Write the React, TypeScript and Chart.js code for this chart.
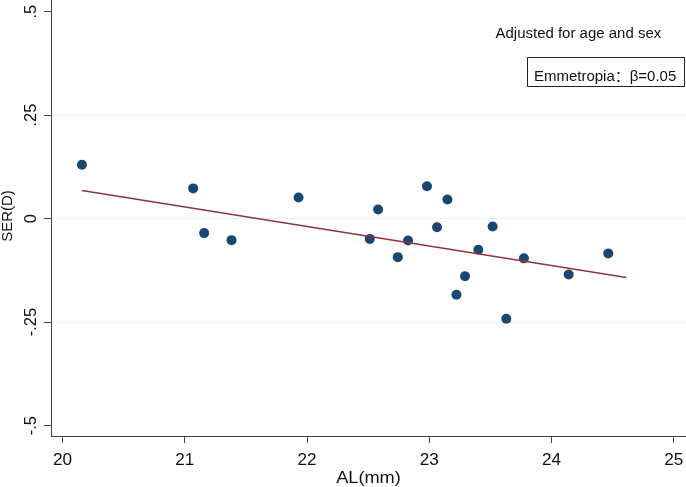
import React, { useEffect, useRef } from "react";
import { Chart, registerables } from "chart.js";

Chart.register(...registerables);

// Data
const alValues = [20.158, 21.068, 21.158, 21.382, 21.93, 22.513, 22.581, 22.742, 22.826, 22.981, 23.063, 23.148, 23.222, 23.292, 23.401, 23.518, 23.63, 23.774, 24.14, 24.464];
const serValues = [0.13, 0.073, -0.035, -0.052, 0.051, -0.049, 0.022, -0.093, -0.053, 0.078, -0.021, 0.046, -0.184, -0.139, -0.075, -0.019, -0.242, -0.096, -0.135, -0.084];
const fitX = [20.158, 24.612];
const fitY = [0.068, -0.142];
const xTicks = [20, 21, 22, 23, 24, 25];
const xTickLabels = ["20", "21", "22", "23", "24", "25"];
const yTicks = [0.5, 0.25, 0, -0.25, -0.5];
const yTickLabels = [".5", ".25", "0", "-.25", "-.5"];
const xTitle = "AL(mm)";
const yTitle = "SER(D)";
const noteText = "Adjusted for age and sex";
const boxText = "Emmetropia\uFF1A\u03B2=0.05";

const FONT = '"Liberation Sans", Arial, "Noto Sans CJK SC", sans-serif';
const SX = 1.07;

function drawText(ctx: CanvasRenderingContext2D, text: string, x: number, y: number, size: number, align: CanvasTextAlign, rot = 0, sx = SX) {
  ctx.save();
  ctx.translate(x, y);
  if (rot) ctx.rotate(rot);
  ctx.scale(sx, 1);
  ctx.font = `${size}px ${FONT}`;
  ctx.textAlign = align;
  ctx.textBaseline = "alphabetic";
  ctx.fillText(text, 0, 0);
  ctx.restore();
}

const textPlugin = {
  id: "stataText",
  afterDraw(chart: any) {
    const ctx: CanvasRenderingContext2D = chart.ctx;
    const xs = chart.scales.x;
    const ys = chart.scales.y;
    const area = chart.chartArea;
    ctx.save();
    ctx.fillStyle = "#111";
    xTicks.forEach((v, i) => {
      drawText(ctx, xTickLabels[i], xs.getPixelForValue(v), area.bottom + 29, 16, "center");
    });
    yTicks.forEach((v, i) => {
      drawText(ctx, yTickLabels[i], area.left - 15.5, ys.getPixelForValue(v), 16.5, "center", -Math.PI / 2, 1);
    });
    drawText(ctx, xTitle, (area.left + area.right) / 2, area.bottom + 47, 17, "center");
    drawText(ctx, yTitle, 12, (area.top + area.bottom) / 2 - 2, 15, "center", -Math.PI / 2, 1);
    drawText(ctx, noteText, 495.5, 38.3, 14, "left");
    // box
    ctx.strokeStyle = "#222";
    ctx.lineWidth = 1;
    ctx.strokeRect(527.5, 57.5, 157, 29);
    drawText(ctx, boxText, 534, 80.5, 14, "left");
    ctx.restore();
  },
};

export default function App() {
  const canvasRef = useRef<HTMLCanvasElement | null>(null);

  useEffect(() => {
    if (!canvasRef.current) return;
    const scatterData = alValues.map((x, i) => ({ x, y: serValues[i] }));
    const fitData = fitX.map((x, i) => ({ x, y: fitY[i] }));
    const chart = new Chart(canvasRef.current, {
      type: "scatter",
      data: {
        datasets: [
          {
            type: "line",
            data: fitData,
            borderColor: "#90353b",
            borderWidth: 1.6,
            pointRadius: 0,
            showLine: true,
            fill: false,
          } as any,
          {
            data: scatterData,
            backgroundColor: "#1a476f",
            borderColor: "#1a476f",
            borderWidth: 0,
            pointRadius: 5,
          },
        ],
      },
      options: {
        animation: false,
        responsive: false,
        maintainAspectRatio: false,
        devicePixelRatio: 1,
        layout: { padding: 0, autoPadding: false },
        plugins: { legend: { display: false }, tooltip: { enabled: false } },
        scales: {
          x: {
            type: "linear",
            min: 19.905,
            max: 25.1,
            afterBuildTicks: (s: any) => {
              s.ticks = xTicks.map((v) => ({ value: v }));
            },
            afterFit: (s: any) => {
              s.height = 51;
            },
            ticks: { display: false },
            grid: { drawOnChartArea: false, tickLength: 7, tickColor: "#444", tickWidth: 1 },
            border: { color: "#444", width: 1 },
          },
          y: {
            type: "linear",
            min: -0.525,
            max: 0.528,
            afterBuildTicks: (s: any) => {
              s.ticks = yTicks.map((v) => ({ value: v }));
            },
            afterFit: (s: any) => {
              s.width = 51;
            },
            ticks: { display: false },
            grid: {
              drawOnChartArea: true,
              color: (c: any) => (c.tick && Math.abs(c.tick.value) === 0.5 ? "rgba(0,0,0,0)" : "#e8f0f2"),
              lineWidth: 1,
              tickLength: 7,
              tickColor: "#444",
              tickWidth: 1,
            },
            border: { color: "#444", width: 1 },
          },
        },
      },
      plugins: [textPlugin],
    });
    return () => chart.destroy();
  }, []);

  return (
    <div style={{ position: "fixed", left: 0, top: 0, width: 686, height: 487, background: "#fff" }}>
      <canvas ref={canvasRef} width={686} height={487} style={{ width: 686, height: 487, display: "block" }} />
    </div>
  );
}
